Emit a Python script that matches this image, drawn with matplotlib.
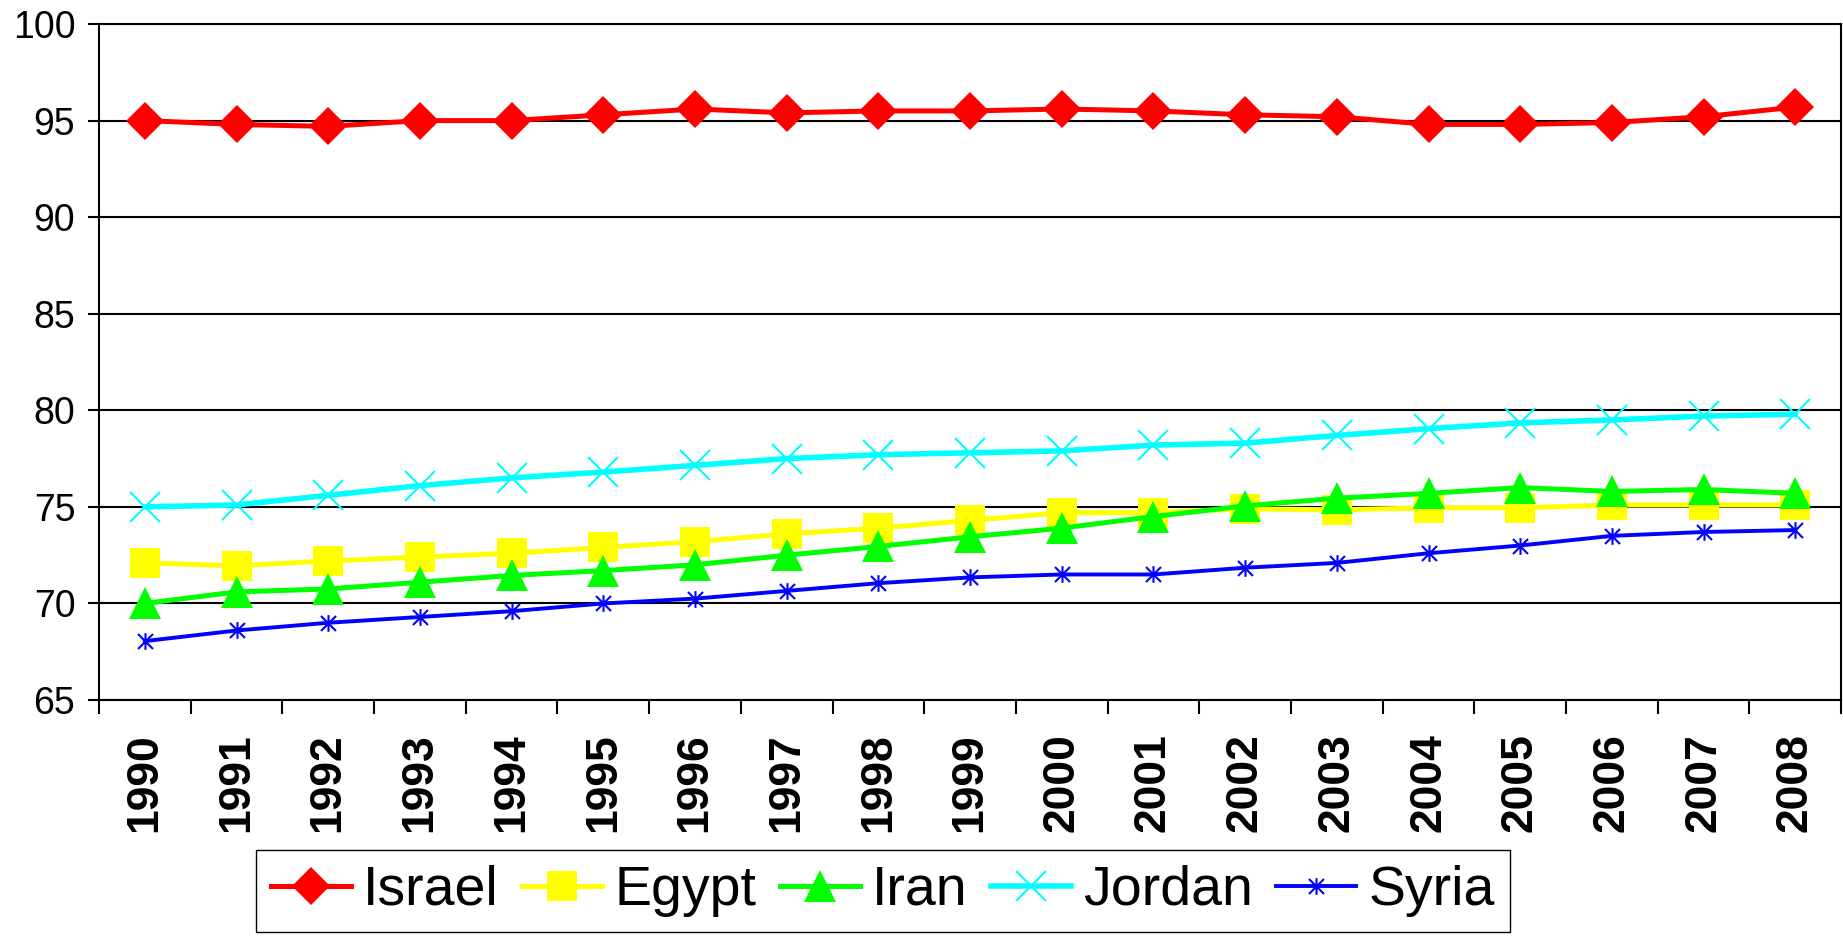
"""
Line chart of yearly index values for five countries, 1990-2008.
"""
import matplotlib
import matplotlib.pyplot as plt
import numpy as np
from matplotlib.path import Path

matplotlib.use("Agg")

plt.rcParams["font.family"] = ["Liberation Sans", "DejaVu Sans"]

years = [str(y) for y in range(1990, 2009)]

israel = [95.0, 94.8, 94.7, 95.0, 95.0, 95.3, 95.6, 95.4, 95.5, 95.5,
          95.6, 95.5, 95.3, 95.2, 94.8, 94.8, 94.9, 95.2, 95.7]
egypt = [72.1, 71.95, 72.2, 72.4, 72.6, 72.9, 73.2, 73.6, 73.9, 74.3,
         74.7, 74.7, 74.9, 74.85, 74.95, 74.95, 75.1, 75.1, 75.1]
iran = [70.0, 70.6, 70.75, 71.1, 71.45, 71.7, 72.0, 72.5, 72.95, 73.45,
        73.9, 74.5, 75.05, 75.45, 75.7, 76.0, 75.8, 75.9, 75.7]
jordan = [75.0, 75.1, 75.6, 76.1, 76.5, 76.8, 77.15, 77.5, 77.7, 77.8,
          77.9, 78.2, 78.3, 78.7, 79.05, 79.35, 79.5, 79.7, 79.8]
syria = [68.05, 68.6, 69.0, 69.3, 69.6, 70.0, 70.25, 70.65, 71.05, 71.35,
         71.5, 71.5, 71.85, 72.1, 72.6, 73.0, 73.5, 73.7, 73.8]

# Excel-style star: vertical bar crossed by an X
star = Path(
    [(0, -1), (0, 1), (-0.9, -0.9), (0.9, 0.9), (-0.9, 0.9), (0.9, -0.9)],
    [Path.MOVETO, Path.LINETO, Path.MOVETO, Path.LINETO, Path.MOVETO, Path.LINETO],
)

# name, values, colour, marker, marker size, marker edge width, line width
series = [
    ("Israel", israel, "#FF0000", "D", 19, 0, 3.6),
    ("Egypt", egypt, "#FFFF00", "s", 21, 0, 3.6),
    ("Iran", iran, "#00FF00", "^", 23, 0, 3.6),
    ("Jordan", jordan, "#00FFFF", "x", 22, 1.5, 4.0),
    ("Syria", syria, "#0000FF", star, 12, 1.5, 2.8),
]

fig = plt.figure(figsize=(18.43, 9.38), dpi=100)
ax = fig.add_axes([0.0537, 0.2537, 0.9453, 0.7207])

x = np.arange(len(years))
for name, values, color, marker, size, mew, lw in series:
    ax.plot(x, values, color=color, lw=lw, marker=marker, markersize=size,
            markeredgewidth=mew, markeredgecolor=color, label=name)

ax.set_xlim(-0.5, len(years) - 0.5)
ax.set_ylim(65, 100)
ax.set_yticks(range(65, 101, 5))
ax.tick_params(axis="y", labelsize=27, length=8, width=1.5, direction="out", pad=9)

ax.set_xticks(x)
ax.set_xticklabels(years, rotation=90, fontsize=32, fontweight="bold")
ax.set_xticks(np.arange(-0.5, len(years), 1), minor=True)
ax.tick_params(axis="x", which="major", length=0, pad=24)
ax.tick_params(axis="x", which="minor", length=10, width=1.5, direction="out")

ax.grid(axis="y", color="black", lw=1.5)
ax.set_axisbelow(True)
for spine in ax.spines.values():
    spine.set_linewidth(1.5)
    spine.set_color("black")

fig.legend(loc="lower center", bbox_to_anchor=(0.479, 0.0064), ncol=5,
           fontsize=40, frameon=True, fancybox=False, edgecolor="black",
           framealpha=1, handlelength=1.44, handletextpad=0.22,
           columnspacing=0.42, borderpad=0.27, borderaxespad=0)

fig.savefig("out.png", dpi=100)
